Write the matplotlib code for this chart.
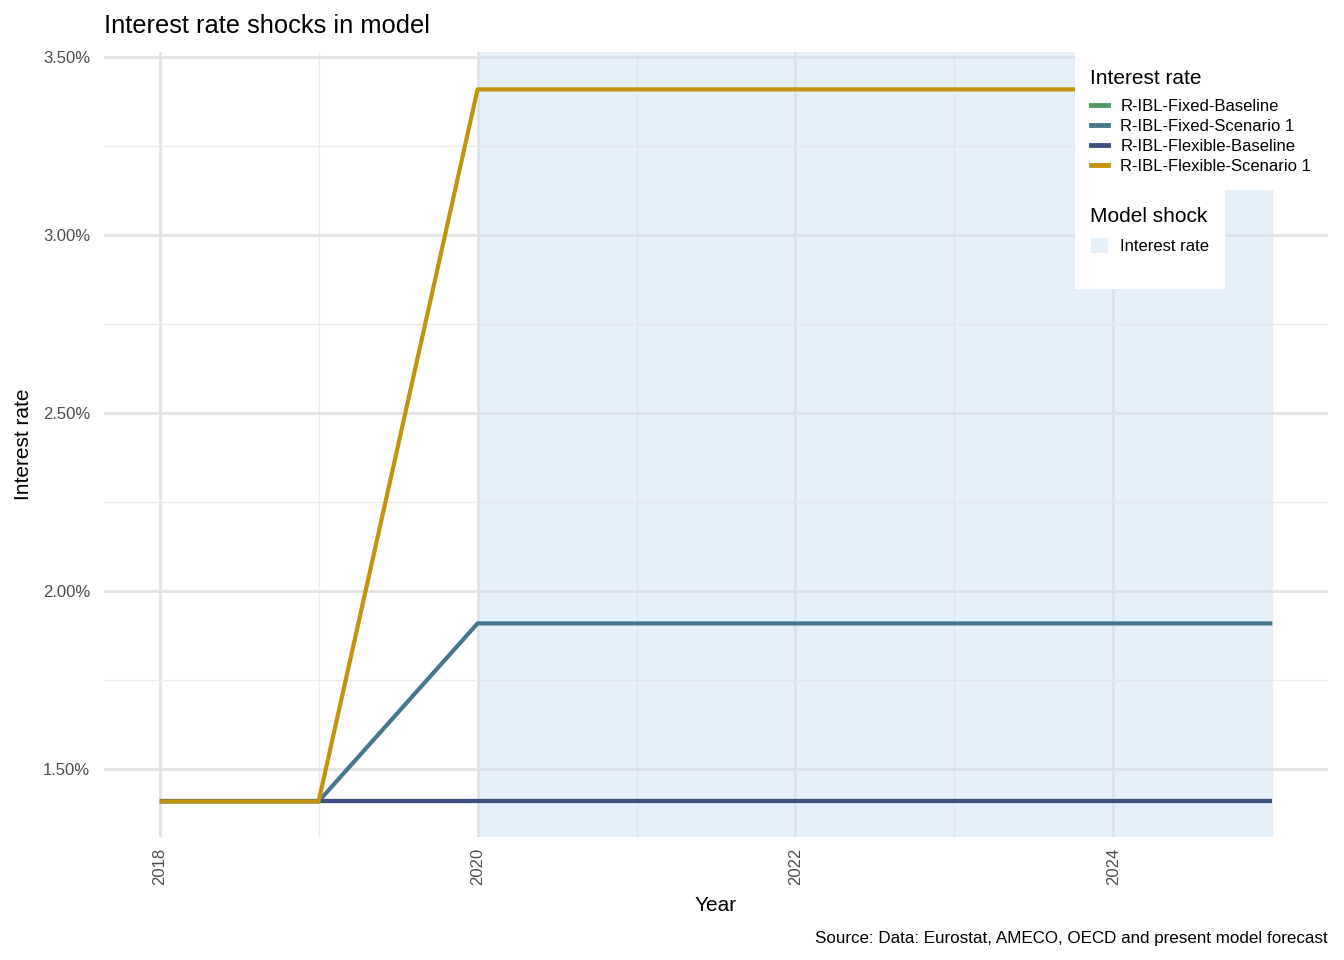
import matplotlib
matplotlib.use("Agg")
import matplotlib.pyplot as plt
from matplotlib.lines import Line2D
from matplotlib.patches import Patch, Rectangle
from matplotlib.ticker import FuncFormatter, MultipleLocator

plt.rcParams['font.family'] = ['Liberation Sans', 'DejaVu Sans']

# Data (values in percent)
years = [2018, 2019, 2020, 2021, 2022, 2023, 2024, 2025]
fixed_baseline = [1.41, 1.41, 1.41, 1.41, 1.41, 1.41, 1.41, 1.41]
fixed_scenario = [1.41, 1.41, 1.91, 1.91, 1.91, 1.91, 1.91, 1.91]
flex_baseline = [1.41, 1.41, 1.41, 1.41, 1.41, 1.41, 1.41, 1.41]
flex_scenario = [1.41, 1.41, 3.41, 3.41, 3.41, 3.41, 3.41, 3.41]
series_names = ['R-IBL-Fixed-Baseline', 'R-IBL-Fixed-Scenario 1',
                'R-IBL-Flexible-Baseline', 'R-IBL-Flexible-Scenario 1']
series_colors = ['#4e9a62', '#45788f', '#3d5180', '#c4920c']
shock_start, shock_end = 2020, 2025

W, H = 1344, 960
fig = plt.figure(figsize=(W / 100, H / 100), dpi=100)
ax = fig.add_axes([104 / W, 1 - 837 / H, 1224 / W, 785 / H])

# grid
ax.set_axisbelow(True)
ax.xaxis.set_major_locator(MultipleLocator(2))
ax.xaxis.set_minor_locator(MultipleLocator(1))
ax.yaxis.set_major_locator(MultipleLocator(0.5))
ax.yaxis.set_minor_locator(MultipleLocator(0.25))
ax.grid(which='major', color='#e3e3e3', linewidth=2.0)
ax.grid(which='minor', color='#ececec', linewidth=1.0)
ax.tick_params(which='both', length=0)
for s in ax.spines.values():
    s.set_visible(False)

# shaded shock period
ax.axvspan(shock_start, shock_end, color='#cfe2f7', alpha=0.5, linewidth=0, zorder=1.5)

for vals, name, col in zip([fixed_baseline, fixed_scenario, flex_baseline, flex_scenario],
                           series_names, series_colors):
    ax.plot(years, vals, color=col, linewidth=3.0, label=name, zorder=3,
            solid_capstyle='butt')

ax.set_xlim(2017.65, 2025.35)
ax.set_ylim(1.31, 3.515)
ax.yaxis.set_major_formatter(FuncFormatter(lambda v, p: f'{v:.2f}%'))
ax.tick_params(axis='x', labelrotation=90, labelsize=12, labelcolor='#4d4d4d', pad=8)
ax.tick_params(axis='y', labelsize=12, labelcolor='#4d4d4d', pad=10)

ax.set_xlabel('Year', fontsize=15, labelpad=7.5)
ax.set_ylabel('Interest rate', fontsize=15, labelpad=7)
ax.set_title('Interest rate shocks in model', loc='left', fontsize=18.4, pad=13.5)

fig.text(1328 / W, 17 / H, 'Source: Data: Eurostat, AMECO, OECD and present model forecast',
         ha='right', va='baseline', fontsize=12.25)

# white legend backgrounds
fig.add_artist(Rectangle((1075 / W, 1 - 190 / H), 265 / W, 138 / H, transform=fig.transFigure,
                         facecolor='white', edgecolor='none', zorder=4))
fig.add_artist(Rectangle((1075 / W, 1 - 289 / H), 150 / W, 99 / H, transform=fig.transFigure,
                         facecolor='white', edgecolor='none', zorder=4))

# legend titles
fig.text(1090 / W, 1 - 79 / H, 'Interest rate', fontsize=15, va='center', ha='left', zorder=5)
fig.text(1090 / W, 1 - 216 / H, 'Model shock', fontsize=15, va='center', ha='left', zorder=5)

# legend entries
h1 = [Line2D([0], [0], color=c, linewidth=3.5) for c in series_colors]
leg1 = fig.legend(h1, series_names, loc='center left',
                  bbox_to_anchor=(1091 / W, 1 - 136.5 / H), bbox_transform=fig.transFigure,
                  frameon=False, fontsize=12, handlelength=1.0, handletextpad=0.75,
                  labelspacing=0.3, borderpad=0, borderaxespad=0)
leg1.set_zorder(5)
h2 = [Patch(facecolor='#e6f0fa', edgecolor='none')]
leg2 = fig.legend(h2, ['Interest rate'], loc='center left',
                  bbox_to_anchor=(1091 / W, 1 - 246 / H), bbox_transform=fig.transFigure,
                  frameon=False, fontsize=12, handlelength=1.0, handleheight=1.0,
                  handletextpad=0.75, borderpad=0, borderaxespad=0)
leg2.set_zorder(5)

fig.savefig('out.png', dpi=100)
